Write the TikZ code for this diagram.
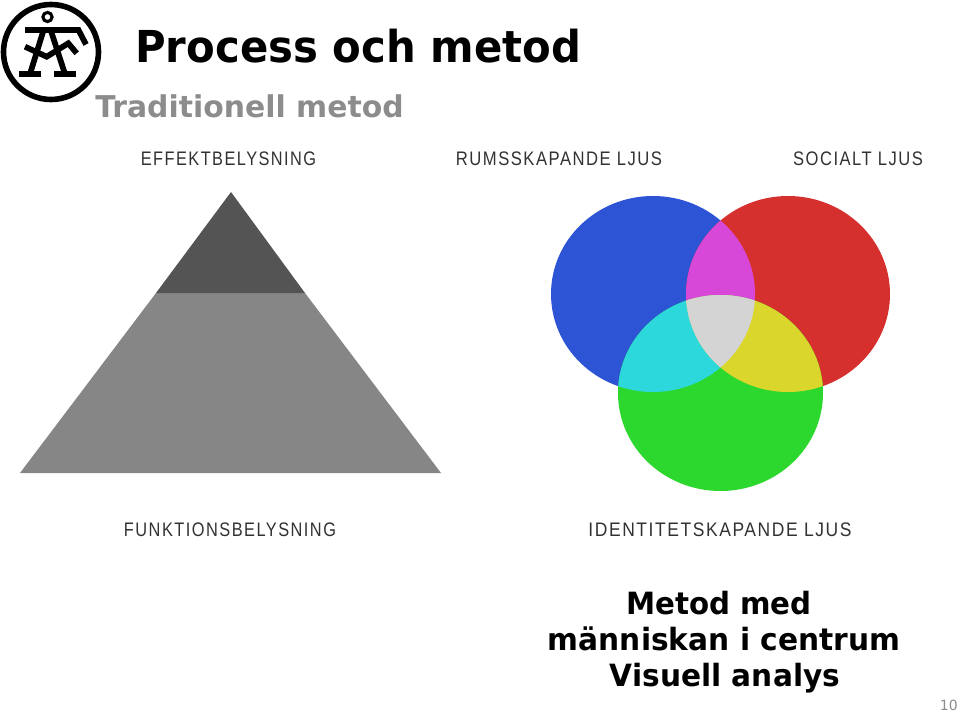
\documentclass[tikz,border=0pt]{standalone}
\usepackage{fontspec}
\setmainfont{DejaVu Sans}
\newfontfamily\lab[LetterSpace=9]{Liberation Sans}
\definecolor{cblue}{RGB}{46,84,214}
\definecolor{cred}{RGB}{214,48,46}
\definecolor{cgreen}{RGB}{44,216,46}
\definecolor{cmag}{RGB}{216,72,216}
\definecolor{ccyan}{RGB}{44,216,220}
\definecolor{cyel}{RGB}{218,214,44}
\definecolor{cwhite}{RGB}{212,212,212}
\definecolor{pdark}{RGB}{84,84,84}
\definecolor{plight}{RGB}{134,134,134}
\definecolor{subgray}{RGB}{140,140,140}
\definecolor{lablk}{RGB}{50,50,50}
\tikzset{
 titletext/.style={anchor=base west,inner sep=0,font=\bfseries\fontsize{33pt}{33pt}\selectfont,text=black},
 subtext/.style={anchor=base west,inner sep=0,font=\bfseries\fontsize{22.5pt}{22.5pt}\selectfont,text=subgray},
 captext/.style={anchor=base,inner sep=0,font=\lab\fontsize{14.7pt}{14.7pt}\selectfont,text=lablk},
 bodytext/.style={anchor=base,inner sep=0,font=\bfseries\fontsize{23pt}{23pt}\selectfont,text=black},
 logoline/.style={line width=4.3pt,black,line join=miter}
}
\begin{document}
\begin{tikzpicture}[x=0.75pt,y=-0.75pt]
\useasboundingbox (0,0) rectangle (960,713);
% logo
\draw[black,line width=4.2pt] (51,52) circle[radius=47.5];
\draw[black,line width=2.3pt] (47.5,17) circle[radius=4.6];
\draw[logoline] (25,30) -- (78.5,30) -- (86,44.5);
\draw[logoline] (43.3,31) -- (30,74);
\draw[logoline] (51,31) -- (65,74);
\draw[logoline] (25,46.7) -- (46.7,56.7) -- (68.3,43.3) -- (76.7,53.3);
\draw[logoline] (19.3,74) -- (41,74);
\draw[logoline] (54.3,74) -- (76,74);
% titles
\node[titletext] (title) at (135,63) {\scalebox{0.95}[1]{Process och metod}};
\node[subtext] (sub) at (95,118) {\scalebox{0.995}[1]{Traditionell metod}};
% pyramid
\fill[plight] (156,293) -- (305,293) -- (441,473) -- (20,473) -- cycle;
\fill[pdark] (231,192) -- (305,293) -- (156,293) -- cycle;
% venn
\fill[cblue] (653,294) ellipse[x radius=102,y radius=98];
\fill[cred] (788,294) ellipse[x radius=102,y radius=98];
\fill[cgreen] (720.5,393) ellipse[x radius=102.5,y radius=98];
\begin{scope}
 \clip (653,294) ellipse[x radius=102,y radius=98];
 \fill[cmag] (788,294) ellipse[x radius=102,y radius=98];
 \fill[ccyan] (720.5,393) ellipse[x radius=102.5,y radius=98];
\end{scope}
\begin{scope}
 \clip (788,294) ellipse[x radius=102,y radius=98];
 \clip (720.5,393) ellipse[x radius=102.5,y radius=98];
 \fill[cyel] (600,180) rectangle (900,500);
 \clip (653,294) ellipse[x radius=102,y radius=98];
 \fill[cwhite] (600,180) rectangle (900,500);
\end{scope}
% captions
\node[captext] (c1) at (228.5,166) {\scalebox{0.833}[1]{EFFEKTBELYSNING}};
\node[captext] (c2) at (559,166) {\scalebox{0.849}[1]{RUMSSKAPANDE LJUS}};
\node[captext] (c3) at (858,166) {\scalebox{0.845}[1]{SOCIALT LJUS}};
\node[captext] (c4) at (230,536) {\scalebox{0.835}[1]{FUNKTIONSBELYSNING}};
\node[captext] (c5) at (720,536) {\scalebox{0.891}[1]{IDENTITETSKAPANDE LJUS}};
% body
\node[bodytext] (b1) at (719,614) {\scalebox{0.955}[1]{Metod med}};
\node[bodytext] (b2) at (724,650) {\scalebox{0.967}[1]{människan i centrum}};
\node[bodytext] (b3) at (725,686) {\scalebox{0.966}[1]{Visuell analys}};
\node[anchor=base east,inner sep=0,font=\fontsize{10.5pt}{10.5pt}\selectfont,text=subgray] (pg) at (958,710) {10};
\end{tikzpicture}
\end{document}
